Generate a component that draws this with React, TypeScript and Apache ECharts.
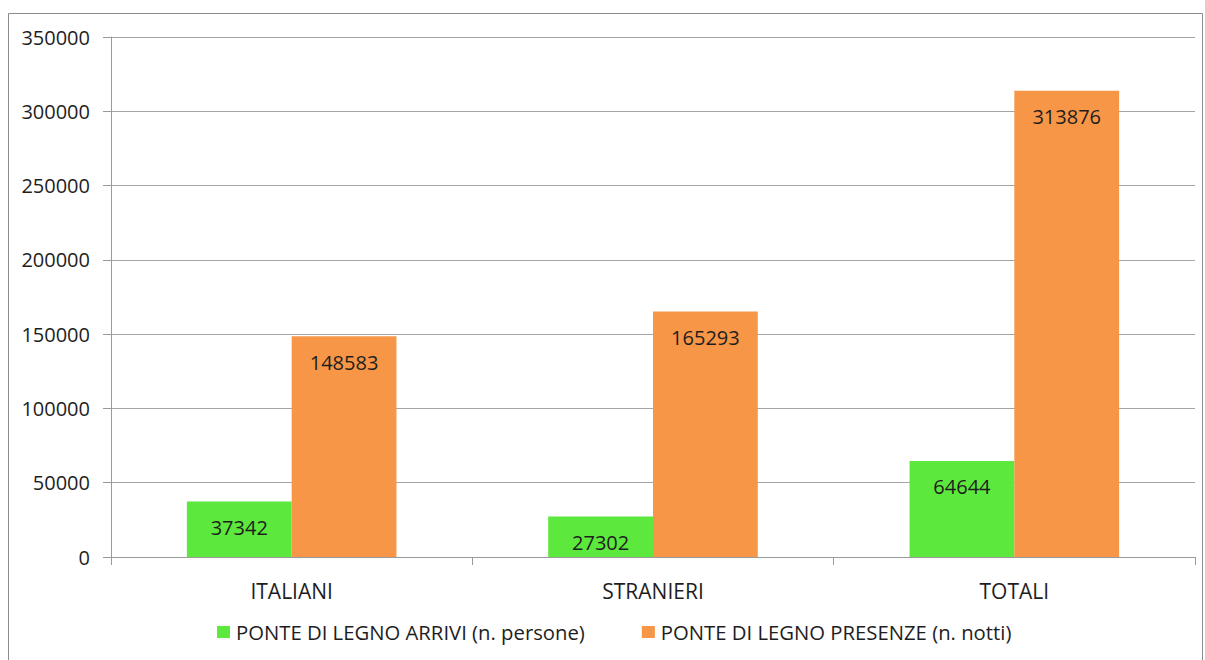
import React, { useEffect, useRef } from "react";
import * as echarts from "echarts";

const categories = ["ITALIANI", "STRANIERI", "TOTALI"];
const arriviName = "PONTE DI LEGNO ARRIVI (n. persone)";
const presenzeName = "PONTE DI LEGNO PRESENZE (n. notti)";
const arrivi = [37342, 27302, 64644];
const presenze = [148583, 165293, 313876];

export default function App() {
  const ref = useRef<HTMLDivElement>(null);
  useEffect(() => {
    if (!ref.current) return;
    const chart = echarts.init(ref.current, null, { renderer: "svg" });
    const font = "'Open Sans', sans-serif";
    const label = {
      show: true,
      position: "insideTop",
      distance: 16,
      color: "#1e1e1e",
      fontSize: 20,
      fontFamily: font,
    };
    chart.setOption({
      animation: false,
      graphic: [
        {
          type: "rect",
          shape: { x: 8.5, y: 13.5, width: 1194, height: 700 },
          style: { fill: "none", stroke: "#8c8c8c", lineWidth: 1 },
          silent: true,
        },
      ],
      grid: { left: 111, right: 10, top: 37, bottom: 103, containLabel: false },
      legend: {
        bottom: 18,
        left: 217,
        padding: 0,
        itemWidth: 13,
        itemHeight: 12,
        itemGap: 57,
        icon: "rect",
        textStyle: { fontSize: 20.3, fontFamily: font, color: "#1e1e1e", padding: [0, 0, 0, 1] },
        data: [arriviName, presenzeName],
      },
      xAxis: {
        type: "category",
        data: categories,
        axisLine: { lineStyle: { color: "#9a9a9a" } },
        axisTick: { show: true, length: 8, lineStyle: { color: "#9a9a9a" } },
        axisLabel: { fontSize: 21, fontFamily: font, color: "#1e1e1e", margin: 23 },
      },
      yAxis: {
        type: "value",
        min: 0,
        max: 350000,
        interval: 50000,
        axisLine: { show: true, lineStyle: { color: "#9a9a9a" } },
        axisTick: { show: true, length: 8, lineStyle: { color: "#9a9a9a" } },
        splitLine: { lineStyle: { color: "#a6a6a6" } },
        axisLabel: {
          fontSize: 20,
          fontFamily: font,
          color: "#1e1e1e",
          margin: 21,
          formatter: (v: number) => String(v),
        },
      },
      series: [
        {
          name: arriviName,
          type: "bar",
          data: arrivi,
          barGap: "0%",
          barCategoryGap: "42%",
          itemStyle: { color: "#5ce83c" },
          label,
        },
        {
          name: presenzeName,
          type: "bar",
          data: presenze,
          barGap: "0%",
          barCategoryGap: "42%",
          itemStyle: { color: "#f79646" },
          label,
        },
      ],
    });
    return () => chart.dispose();
  }, []);
  return (
    <div
      ref={ref}
      style={{ position: "fixed", left: 0, top: 0, width: 1205, height: 660, background: "#fff" }}
    />
  );
}
